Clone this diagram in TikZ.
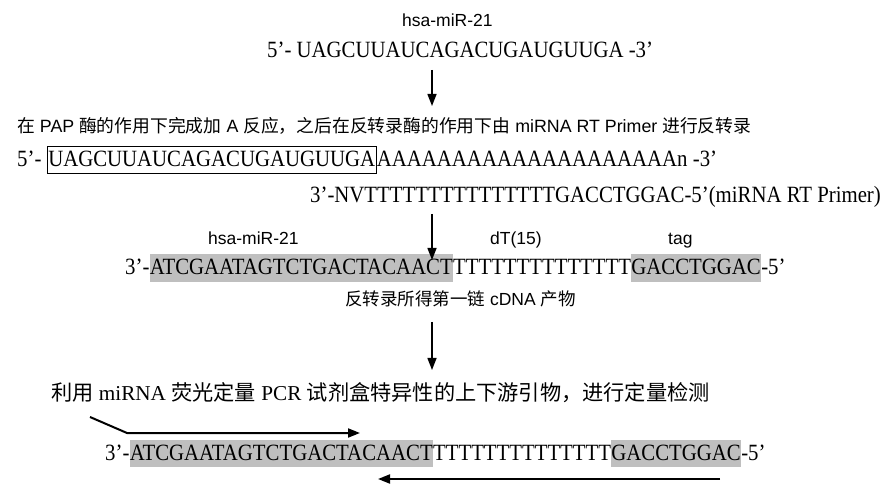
\documentclass[tikz,border=0pt]{standalone}
\usepackage{fontspec}
\usepackage{graphicx}
\setmainfont{Liberation Serif}
\newfontfamily\arialf{Liberation Sans}
\newfontfamily\cjkf{Noto Sans CJK SC}
\usetikzlibrary{arrows.meta}
\definecolor{hlgray}{RGB}{191,191,191}
\newcommand{\vst}[1]{\scalebox{1}[1.12]{#1}}
\tikzset{
  seq/.style={inner sep=0pt, anchor=base west, font=\fontsize{20.8}{24}\selectfont},
  lab/.style={inner sep=0pt, anchor=base west, font=\arialf\fontsize{17.5}{20}\selectfont},
  cnlab/.style={inner sep=0pt, anchor=base west, font=\arialf\fontsize{17.8}{20}\selectfont},
  cnline/.style={inner sep=0pt, anchor=base west, font=\fontsize{21.2}{24}\selectfont},
  hl/.style={seq, fill=hlgray, text height=20.5pt, text depth=7pt},
  boxed/.style={seq, draw=black, line width=0.8pt, inner xsep=1pt, inner ysep=0pt, text height=21pt, text depth=6pt},
  flow/.style={line width=1.4pt, -{Triangle[length=12pt,width=9pt]}},
  primer/.style={line width=2pt, -{Triangle[length=12pt,width=9pt]}},
}
\begin{document}
\begin{tikzpicture}[x=1pt,y=-1pt]
\useasboundingbox (0,0) rectangle (892,494);
% top
\node[lab] (t1) at (402,27) {hsa-miR-21};
\node[seq] (l1) at (267,58) {\vst{5’-~UAGCUUAUCAGACUGAUGUUGA~-3’}};
\coordinate (a1s) at (432,70);
\coordinate (a1e) at (432,106);
\draw[flow] (a1s) -- (a1e);
% chinese line 1
\node[cnlab] (c1) at (17,133) {{\cjkf 在} PAP {\cjkf 酶的作用下完成加} A {\cjkf 反应，之后在反转录酶的作用下由} miRNA RT Primer {\cjkf 进行反转录}};
% line 2
\node[seq] (l2a) at (17,167) {\vst{5’-~}};
\node[boxed] (l2b) at (l2a.base east) {\vst{UAGCUUAUCAGACUGAUGUUGA}};
\node[seq] (l2c) at (l2b.base east) {\vst{AAAAAAAAAAAAAAAAAAAAn~-3’}};
% line 3
\node[seq] (l3) at (310,203) {\vst{3’-NVTTTTTTTTTTTTTTTGACCTGGAC-5’(miRNA RT Primer)}};
\coordinate (a2s) at (432,214);
\coordinate (a2e) at (432,260);
% labels
\node[lab] (t2) at (208,245) {hsa-miR-21};
\node[lab] (t3) at (490,245) {dT(15)};
\node[lab] (t4) at (668,245) {tag};
% line 4
\node[seq] (l4a) at (125,275) {\vst{3’-}};
\node[hl] (l4b) at (l4a.base east) {\vst{ATCGAATAGTCTGACTACAACT}};
\node[seq] (l4c) at (l4b.base east) {\vst{TTTTTTTTTTTTTT}};
\node[hl] (l4d) at (l4c.base east) {\vst{GACCTGGAC}};
\node[seq] (l4e) at (l4d.base east) {\vst{-5’}};
\draw[flow] (a2s) -- (a2e);
\node[lab] (c2) at (345,306) {{\cjkf 反转录所得第一链} cDNA {\cjkf 产物}};
\coordinate (a3s) at (432,322);
\coordinate (a3e) at (432,370);
\draw[flow] (a3s) -- (a3e);
% chinese line 2
\node[cnline] (c3) at (51,400) {{\cjkf 利用} miRNA {\cjkf 荧光定量} PCR {\cjkf 试剂盒特异性的上下游引物，进行定量检测}};
% line 5
\node[seq] (l5a) at (105,460) {\vst{3’-}};
\node[hl] (l5b) at (l5a.base east) {\vst{ATCGAATAGTCTGACTACAACT}};
\node[seq] (l5c) at (l5b.base east) {\vst{TTTTTTTTTTTTTT}};
\node[hl] (l5d) at (l5c.base east) {\vst{GACCTGGAC}};
\node[seq] (l5e) at (l5d.base east) {\vst{-5’}};
% primers
\coordinate (p1a) at (90,417);
\coordinate (p1b) at (127,433);
\coordinate (p1c) at (360,433);
\draw[primer] (p1a) -- (p1b) -- (p1c);
\coordinate (p2a) at (720,479);
\coordinate (p2b) at (378,479);
\draw[primer] (p2a) -- (p2b);
\end{tikzpicture}
\end{document}
